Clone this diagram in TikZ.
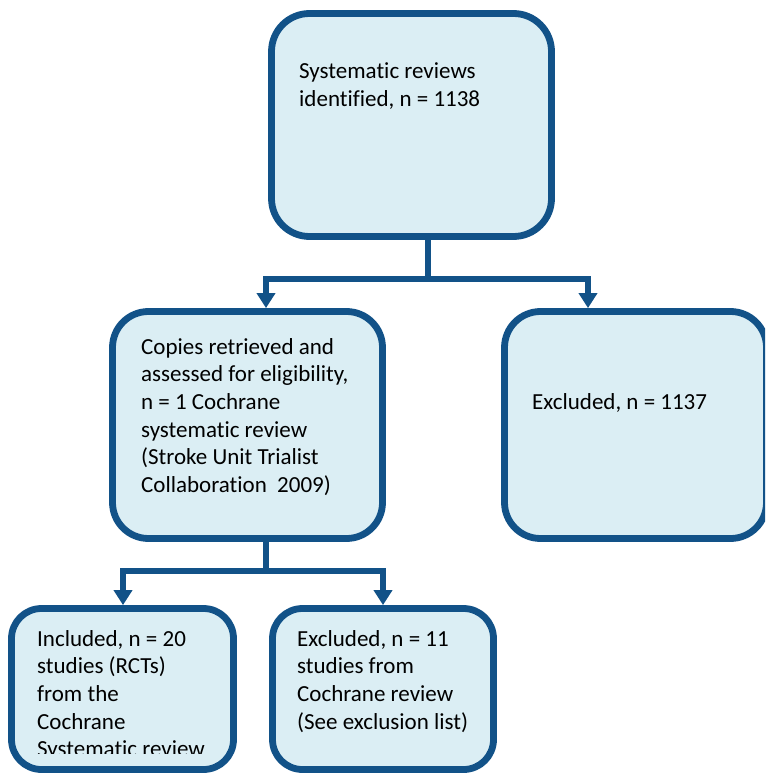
\documentclass[tikz,border=0pt]{standalone}
\usepackage{fontspec}
\setmainfont[Ligatures={NoCommon}]{Carlito}
\usetikzlibrary{arrows.meta}
\definecolor{edgeblue}{RGB}{18,82,136}
\definecolor{boxfill}{RGB}{219,238,244}
\tikzset{
  flowbox/.style={draw=edgeblue, fill=boxfill, line width=6.8pt,
    rounded corners=#1, inner sep=0pt, outer sep=3.4pt},
  flowbox/.default=34pt,
  % anchored at the baseline of the last line
  boxtext/.style={anchor=base west, align=left, inner sep=0pt,
    font=\fontsize{23}{27.7}\selectfont},
  link/.style={draw=edgeblue, line width=6pt},
  linkarrow/.style={link, -{Triangle[width=18pt,length=15pt]}}
}
\begin{document}
\begin{tikzpicture}[x=1pt, y=-1pt]
  \clip (0,0) rectangle (765,775);

  % boxes (centre of border line, size of border path)
  \node[flowbox=38pt, minimum width=280pt, minimum height=223pt] (top) at (411.5,125) {};
  \node[flowbox=36pt, minimum width=270pt, minimum height=227pt] (mid) at (247.5,425) {};
  \node[flowbox=36pt, minimum width=262pt, minimum height=227pt] (excl) at (635.5,425) {};
  \node[flowbox=30pt, minimum width=222pt, minimum height=161pt] (incl) at (122.5,689) {};
  \node[flowbox=30pt, minimum width=221pt, minimum height=161pt] (excl2) at (383,689) {};

  % texts
  \node[boxtext] (ttop) at (299,106.7) {Systematic reviews\\identified, n = 1138};
  \node[boxtext] (tmid) at (141,492.5) {Copies retrieved and\\assessed for eligibility,\\n = 1 Cochrane\\systematic review\\(Stroke Unit Trialist\\Collaboration\ \ 2009)};
  \node[boxtext] (texcl) at (532,409) {Excluded, n = 1137};
  \begin{scope}
    \clip (0,600) rectangle (240,753);
    \node[boxtext] (tincl) at (37,756.8) {Included, n = 20\\studies (RCTs)\\from the\\Cochrane\\Systematic review};
  \end{scope}
  \node[boxtext] (texcl2) at (297,729.1) {Excluded, n = 11\\studies from\\Cochrane review\\(See exclusion list)};

  % first split
  \coordinate (j1) at (428,279);
  \coordinate (a1) at (266,279);
  \coordinate (a2) at (588,279);
  \draw[link] (j1 |- top.south) -- (j1);
  \draw[link, line cap=rect] (a1) -- (a2);
  \draw[linkarrow] (a1) -- (a1 |- mid.north);
  \draw[linkarrow] (a2) -- (a2 |- excl.north);

  % second split
  \coordinate (j2) at (266,571);
  \coordinate (b1) at (123,571);
  \coordinate (b2) at (383,571);
  \draw[link] (j2 |- mid.south) -- (j2);
  \draw[link, line cap=rect] (b1) -- (b2);
  \draw[linkarrow] (b1) -- (b1 |- incl.north);
  \draw[linkarrow] (b2) -- (b2 |- excl2.north);
\end{tikzpicture}
\end{document}
